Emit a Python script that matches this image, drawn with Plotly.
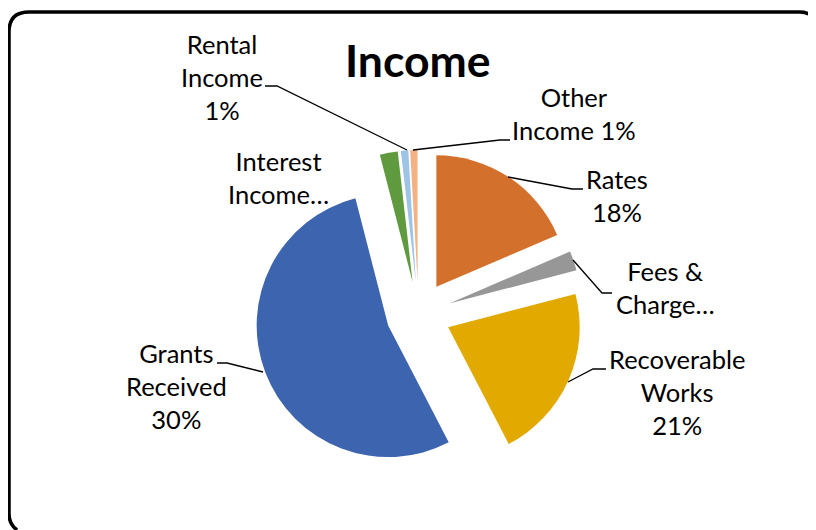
import plotly.graph_objects as go

OFF_X, OFF_Y = 8, 8          # page body margin offset
W, H = 816 - OFF_X, 530 - OFF_Y  # figure fills the rest of the window

categories = ["Rates", "Fees & Charges", "Recoverable Works", "Grants Received",
              "Interest Income", "Rental Income", "Other Income"]
values = [18.5, 2.4, 21.4, 53.5, 2.2, 0.9, 0.9]
label_texts = ["Rates<br>18%", "Fees &<br>Charge…", "Recoverable<br>Works<br>21%",
               "Grants<br>Received<br>30%", "Interest<br>Income…", "Rental<br>Income<br>1%",
               "Other<br>Income 1%"]
colors = ["#D3702B", "#979797", "#E2AA00", "#3D64AE", "#5F9A3E", "#9DC3E6", "#F4B183"]

# label placement (pixel centre of text block) and leader line polylines
label_pos = [(617, 196), (665, 287), (677, 392), (176, 386), (278, 178), (222, 77), (574, 113)]
leaders = [
    [(583, 189), (572, 189), (508, 177)],
    [(612, 293), (602, 293), (573, 260)],
    [(606, 369), (593, 369), (568, 382)],
    [(217, 363), (227, 363), (263, 372)],
    None,
    [(265, 86), (277, 86), (407, 150)],
    [(510, 140), (500, 140), (413, 150)],
]

def px(x):
    return (x - OFF_X) / W

def py(y):
    return 1 - (y - OFF_Y) / H

cx, cy, r, pull = 418.5, 314, 131.5, 0.247
half = r * (1 + pull)

fig = go.Figure(go.Pie(
    labels=categories, values=values, sort=False, direction="clockwise", rotation=0,
    marker=dict(colors=colors, line=dict(width=0)),
    pull=[pull] * len(values), textinfo="none", hoverinfo="label+value",
    domain=dict(x=[px(cx - half), px(cx + half)], y=[py(cy + half), py(cy - half)]),
    showlegend=False,
))

font = dict(family="Lato, Noto Sans, sans-serif", size=25.5, color="#000000")
annotations = []
shapes = []
for (lx, ly), txt in zip(label_pos, label_texts):
    annotations.append(dict(x=px(lx), y=py(ly), xref="paper", yref="paper", text=txt,
                            showarrow=False, xanchor="center", yanchor="middle",
                            align="center", font=font))
for pts in leaders:
    if pts is None:
        continue
    path = "M " + " L ".join(f"{px(a):.5f},{py(b):.5f}" for a, b in pts)
    shapes.append(dict(type="path", path=path, xref="paper", yref="paper",
                       line=dict(color="#000000", width=1.3)))

annotations.append(dict(x=px(418), y=py(60), xref="paper", yref="paper", text="<b>Income</b>",
                        showarrow=False, xanchor="center", yanchor="middle",
                        font=dict(family="Lato, Noto Sans, sans-serif", size=44.5, color="#000000")))

# rounded border, cut off by the right and bottom window edges as in the reference
bpts = "M {},{} Q {},{} {},{} L {},{} Q {},{} {},{} L {},{} Q {},{} {},{}".format(
    px(17), py(530), px(9), py(524), px(9), py(514),
    px(9), py(32), px(9), py(12), px(29), py(12),
    px(800), py(12), px(810), py(12), px(816), py(20))
shapes.append(dict(type="path", path=bpts, xref="paper", yref="paper",
                   line=dict(color="#000000", width=3.5)))

fig.update_layout(width=W, height=H, autosize=False,
                  margin=dict(l=0, r=0, t=0, b=0),
                  paper_bgcolor="#FFFFFF", plot_bgcolor="#FFFFFF",
                  annotations=annotations, shapes=shapes)

fig.write_html("out.html")
